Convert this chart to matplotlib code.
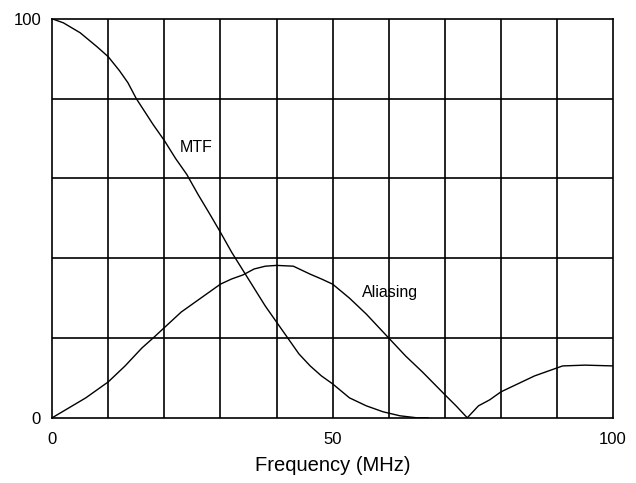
import matplotlib
matplotlib.use("Agg")
import matplotlib.pyplot as plt

plt.rcParams['font.family'] = ['Liberation Sans', 'DejaVu Sans']

# curve values
mtf_freq = [0, 2, 5, 8, 10, 12, 13.5, 15, 18, 20, 22, 24, 26, 28, 30, 32, 34, 36, 38,
            40, 42, 44, 46, 48, 50, 53, 56, 59, 62, 65, 67]
mtf_vals = [100, 99, 96.5, 93, 90.5, 87, 84, 80, 73.5, 69.5, 65, 61, 56, 51.3, 46.5,
            41.5, 37, 32.5, 28, 24, 20, 16, 13, 10.5, 8.5, 5, 3, 1.5, 0.5, 0, 0]

alias_freq = [0, 3, 6, 10, 13, 16, 18, 20, 23, 26, 28, 30, 32, 34, 36, 38, 40, 43,
              46, 48, 50, 53, 56, 58, 60, 63, 66, 70, 72, 74, 76, 78, 80, 83, 86,
              89, 91, 95, 100]
alias_vals = [0, 2.5, 5, 9, 13, 17.5, 20, 22.6, 26.5, 29.5, 31.5, 33.5, 34.8, 35.8,
              37.3, 38, 38.2, 38, 36, 34.8, 33.5, 30, 26, 23, 20, 15.5, 11.5, 5.8,
              3, 0, 3, 4.5, 6.5, 8.5, 10.5, 12, 13, 13.2, 13]

x_ticks = [0, 50, 100]
y_ticks = [0, 100]

fig = plt.figure(figsize=(6.36, 4.83), dpi=100)
ax = fig.add_axes([0.082, 0.135, 0.882, 0.826])

ax.plot(mtf_freq, mtf_vals, color="black", lw=1.0)
ax.plot(alias_freq, alias_vals, color="black", lw=1.0)

ax.set_xlim(0, 100)
ax.set_ylim(0, 100)

# grid: every 10 MHz across, every 20 units up
for gx in range(10, 100, 10):
    ax.axvline(gx, color="black", lw=1.2)
for gy in range(20, 100, 20):
    ax.axhline(gy, color="black", lw=1.2)
for s in ax.spines.values():
    s.set_linewidth(1.2)

ax.set_xticks(x_ticks)
ax.set_yticks(y_ticks)
ax.tick_params(length=0, labelsize=12)
ax.tick_params(axis="x", pad=10)
ax.tick_params(axis="y", pad=8)
ax.set_xlabel("Frequency (MHz)", fontsize=14.5, labelpad=7)

ax.text(22.8, 66.6, "MTF", fontsize=11.5, va="baseline", ha="left")
ax.text(55.3, 30.2, "Aliasing", fontsize=11.5, va="baseline", ha="left")

fig.savefig("out.png", dpi=100)
